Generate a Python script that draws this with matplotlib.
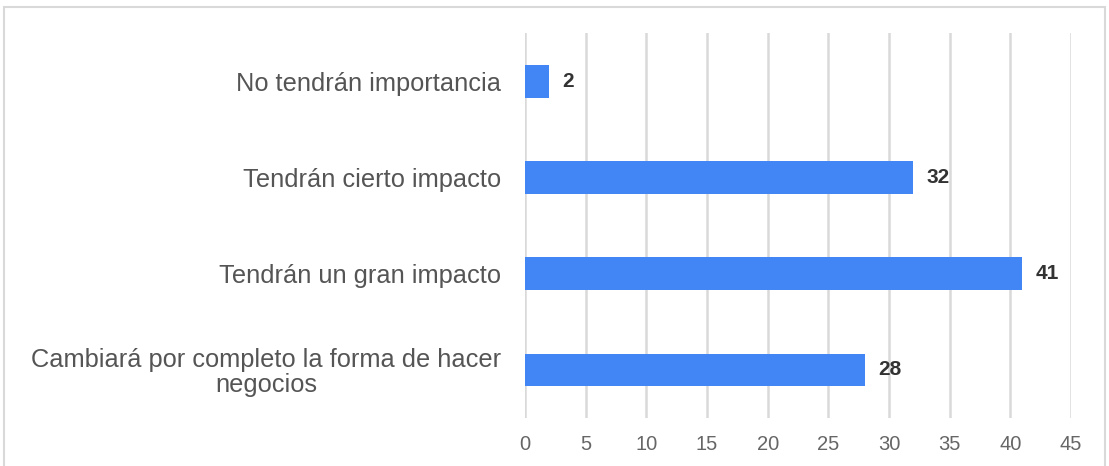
# horizontal bar chart of expected impact
import numpy as np
import matplotlib.pyplot as plt
from matplotlib.patches import Rectangle

plt.rcParams['font.family'] = ['Liberation Sans', 'DejaVu Sans']

# data
categorias = ["No tendrán importancia",
              "Tendrán cierto impacto",
              "Tendrán un gran impacto",
              "Cambiará por completo la forma de hacer\nnegocios"]
valores = [2, 32, 41, 28]
ticks_x = [0, 5, 10, 15, 20, 25, 30, 35, 40, 45]

fig = plt.figure(figsize=(11.09, 4.66), dpi=100)
ax = fig.add_axes([0.4734, 0.103, 0.4923, 0.826])

# outer frame
fig.patches.append(Rectangle((4 / 1109, -0.1), 1101 / 1109, 1.1 - 7 / 466,
                             transform=fig.transFigure, fill=False,
                             edgecolor='#d9d9d9', linewidth=1.5))

y = np.arange(len(categorias))
ax.barh(y, valores, height=0.34, color='#4285f4', zorder=3)
for yi, v in zip(y, valores):
    ax.text(v + 1.1, yi, str(v), va='center', ha='left', fontsize=15,
            fontweight='bold', color='#333333', zorder=4)

ax.set_xlim(0, 45)
ax.set_ylim(len(categorias) - 0.5, -0.5)
ax.set_xticks(ticks_x)
ax.set_yticks(y)
ax.set_yticklabels(categorias, fontsize=18.3, color='#555555',
                   multialignment='center', linespacing=1.05)
ax.tick_params(axis='x', length=0, labelsize=14.5, labelcolor='#666666', pad=12)
ax.tick_params(axis='y', length=0, pad=17)
ax.grid(axis='x', color='#d9d9d9', linewidth=1.8, zorder=0)
for s in ax.spines.values():
    s.set_visible(False)

fig.savefig('out.png', dpi=100)
